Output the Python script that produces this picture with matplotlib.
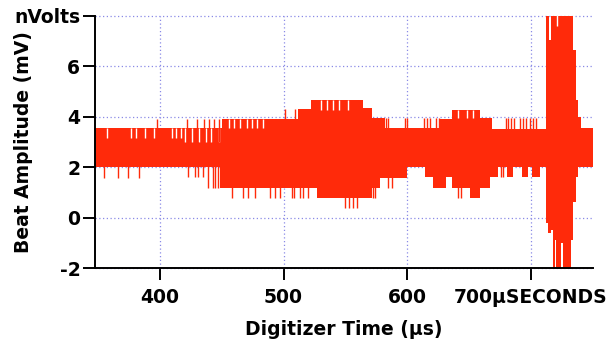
import numpy as np
import matplotlib
matplotlib.use("Agg")
import matplotlib.pyplot as plt

# Envelope of the digitized beat signal (step segments, µs -> mV)
top_edges = [347.5, 450.5, 511.6, 522.1, 564.1, 571.4, 581.9, 626.4, 636.1, 658.8,
             668.5, 712.4, 714.5, 716.1, 734.2, 736.8, 738.2, 740.8, 750.0]
top_vals = [3.55, 3.93, 4.30, 4.67, 4.33, 3.95, 3.55, 3.90, 4.27, 3.95,
            3.50, 9.0, 7.05, 9.0, 6.65, 4.67, 4.00, 3.55]

bot_edges = [347.5, 449.0, 527.0, 571.4, 577.9, 599.7, 614.3, 621.0, 631.0, 636.1,
             650.7, 658.8, 666.8, 673.3, 680.6, 685.4, 692.7, 697.6, 700.8, 707.3,
             712.4, 713.6, 716.1, 717.8, 719.8, 720.6, 724.2, 725.9, 732.3, 734.5,
             736.5, 738.4, 750.0]
bot_vals = [2.0, 1.17, 0.78, 1.17, 1.57, 2.0, 1.6, 1.17, 1.6, 1.17,
            0.78, 1.17, 1.6, 2.0, 1.6, 2.0, 1.6, 2.0, 1.6, 2.0,
            -0.2, -0.6, -0.5, -2.5, -0.9, -2.5, -1.0, -2.5, -0.9, 0.6,
            1.6, 2.0]

# Isolated excursions above the upper envelope
spike_up_x = [397.6, 421.8, 429.9, 435.6, 439.7, 443.7, 447.8, 501.0, 509.5,
              582.7, 584.4, 598.1, 599.7, 613.5, 615.9, 618.5, 623.2, 625.6,
              679.8, 681.7, 683.9, 686.3, 691.1, 693.8, 696.5, 699.2, 701.9, 704.6]
spike_up_y = [3.9, 3.9, 3.9, 3.9, 3.9, 3.9, 3.9, 4.3, 4.3,
              3.95, 3.95, 3.95, 3.95, 3.95, 3.95, 3.95, 3.95, 3.95,
              3.95, 3.95, 3.95, 3.95, 3.95, 3.95, 3.95, 3.95, 3.95, 3.95]

# Isolated excursions below the lower envelope
spike_dn_x = [354.7, 366.0, 374.1, 383.0, 422.6, 428.3, 430.7, 434.8, 438.8, 442.9,
              444.5, 447.0, 458.2, 467.1, 471.2, 476.8, 488.9, 493.0, 497.0, 506.7,
              508.3, 513.2, 515.6, 519.7, 549.6, 552.9, 556.1, 559.3, 572.5, 574.0,
              584.4, 587.6, 641.0, 643.5, 675.5, 677.5]
spike_dn_y = [1.58, 1.58, 1.58, 1.58, 1.6, 1.6, 1.6, 1.6, 1.17, 1.17,
              1.17, 1.17, 0.78, 0.78, 0.78, 0.78, 0.78, 0.78, 0.78, 0.78,
              0.78, 0.78, 0.78, 0.78, 0.38, 0.38, 0.38, 0.38, 0.78, 0.78,
              1.17, 1.17, 0.78, 0.78, 1.6, 1.6]

# Short dropouts of the upper envelope
notch_x = [357.0, 376.5, 380.6, 387.9, 395.1, 409.7, 412.9, 416.9, 420.2, 426.0,
           431.5, 437.3, 441.5, 448.0, 455.8, 459.8, 464.7, 470.3, 474.4, 478.4,
           483.3, 530.0, 535.0, 540.0, 545.0, 552.0, 641.0, 648.0, 653.0, 721.4]
notch_y = [3.15, 3.15, 3.15, 3.15, 3.15, 3.15, 3.15, 3.15, 3.0, 3.0,
           3.0, 3.0, 3.0, 3.0, 3.55, 3.55, 3.55, 3.55, 3.55, 3.55,
           3.55, 4.27, 4.27, 4.27, 4.27, 4.27, 3.95, 3.95, 3.95, 7.6]

y_ticks = [-2, 0, 2, 4, 6, 8]
y_labels = ["-2", "0", "2", "4", "6", "nVolts"]
x_ticks = [400, 500, 600, 700]
x_labels = ["400", "500", "600", "700µSECONDS"]

RED = "#ff2a0a"


def step_at(edges, vals, x):
    idx = np.searchsorted(edges, x, side="right") - 1
    idx = np.clip(idx, 0, len(vals) - 1)
    return np.asarray(vals)[idx]


plt.rcParams["font.family"] = ["DejaVu Sans"]
plt.rcParams["font.weight"] = "bold"

fig = plt.figure(figsize=(6.13, 3.41), dpi=100)
ax = fig.add_axes([95 / 613, 1 - 268 / 341, (593 - 95) / 613, (268 - 16) / 341])

xs = np.union1d(top_edges, bot_edges)
hi = step_at(top_edges, top_vals, xs)
lo = step_at(bot_edges, bot_vals, xs)
ax.fill_between(xs, lo, hi, step="post", color=RED, linewidth=0, zorder=2)

ax.vlines(notch_x, notch_y, step_at(top_edges, top_vals, notch_x),
          colors="white", linewidth=1.0, zorder=2.2)
ax.vlines(spike_up_x, 3.0, spike_up_y, colors=RED, linewidth=1.0, zorder=2.3)
ax.vlines(spike_dn_x, spike_dn_y, 3.0, colors=RED, linewidth=1.0, zorder=2.3)

ax.set_xlim(347.5, 750.3)
ax.set_ylim(-2, 8)
ax.set_xticks(x_ticks)
ax.set_xticklabels(x_labels)
ax.set_yticks(y_ticks)
ax.set_yticklabels(y_labels)

ax.tick_params(axis="both", direction="out", length=8.6, width=1.4,
               labelsize=13.5, color="black")
ax.tick_params(axis="x", pad=6)
ax.tick_params(axis="y", pad=2)

for side in ("top", "right"):
    ax.spines[side].set_visible(False)
for side in ("left", "bottom"):
    ax.spines[side].set_linewidth(1.4)

ax.set_axisbelow(True)
ax.grid(True, color="#8a8ae6", linestyle=(0, (1, 2)), linewidth=0.9)
for gl in ax.yaxis.get_gridlines():
    gl.set_clip_on(False)

ax.set_ylabel("Beat Amplitude (mV)", fontsize=13.5, fontweight="bold")
ax.yaxis.set_label_coords(-0.125, 0.5)
ax.set_xlabel("Digitizer Time (µs)", fontsize=13.5, fontweight="bold")
ax.xaxis.set_label_coords(0.5, -0.207)

fig.savefig("out.png", dpi=100)
